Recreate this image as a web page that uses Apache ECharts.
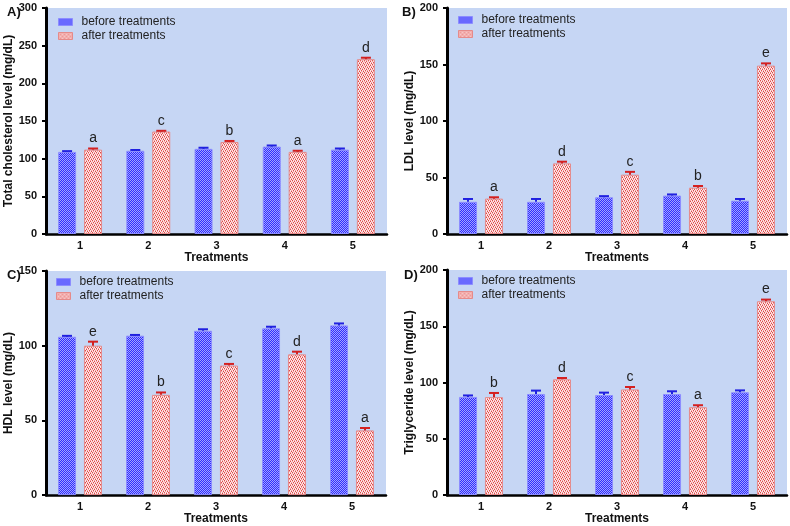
<!DOCTYPE html>
<html><head><meta charset="utf-8">
<script src="https://cdn.jsdelivr.net/npm/echarts@6/dist/echarts.min.js"></script>
<style>html,body{margin:0;padding:0;background:#fff}#c{width:790px;height:526px}</style>
</head><body><div id="c"></div>
<script>
const categories = ['1','2','3','4','5'];
const legendNames = ['before treatments','after treatments'];
// Panel A: Total cholesterol
const tcBefore = [109, 110.5, 113, 116, 112];
const tcBeforeErr = [110, 111.5, 114.5, 117.5, 113.5];
const tcAfter = [112, 136, 122, 109, 232];
const tcAfterErr = [113.5, 137, 123.5, 110.5, 234];
const tcLetters = ['a','c','b','a','d'];
// Panel B: LDL
const ldlBefore = [28.5, 28.5, 32.5, 34, 29.5];
const ldlBeforeErr = [31, 31, 33.5, 35, 31];
const ldlAfter = [31.3, 62.5, 52.5, 41, 149];
const ldlAfterErr = [32.5, 64, 55, 42.5, 151];
const ldlLetters = ['a','d','c','b','e'];
// Panel C: HDL
const hdlBefore = [106, 106.7, 110, 111.6, 113.6];
const hdlBeforeErr = [106.6, 107.2, 111, 112.7, 114.9];
const hdlAfter = [100, 67.1, 86.7, 94.2, 43.3];
const hdlAfterErr = [102.7, 68.7, 87.8, 96, 44.9];
const hdlLetters = ['e','b','c','d','a'];
// Panel D: Triglyceride
const tgBefore = [87.2, 89.8, 88.8, 89.8, 91.3];
const tgBeforeErr = [88.5, 92.8, 91, 92.2, 93];
const tgAfter = [87, 102.8, 93.8, 78, 172.2];
const tgAfterErr = [90.7, 104, 96, 79.8, 173.7];
const tgLetters = ['b','d','c','a','e'];

const panelTitles = ['A)','B)','C)','D)'];
const yNames = ['Total cholesterol level (mg/dL)','LDL level (mg/dL)','HDL level (mg/dL)','Triglyceride level (mg/dL)'];
const yMax = [300, 200, 150, 200];
const xName = 'Treatments';

function makeBluePattern() {
  const c = document.createElement('canvas'); c.width = 2; c.height = 2;
  const g = c.getContext('2d');
  g.fillStyle = '#2e2eff'; g.fillRect(0,0,2,2);
  g.fillStyle = '#a4a4ff';
  g.fillRect(0,0,1,1); g.fillRect(1,1,1,1);
  return c;
}
function makeRedPattern() {
  const c = document.createElement('canvas'); c.width = 4; c.height = 4;
  const g = c.getContext('2d');
  g.fillStyle = '#fde8e8'; g.fillRect(0,0,4,4);
  g.fillStyle = '#e04848';
  g.fillRect(0,0,1,1); g.fillRect(2,1,1,1); g.fillRect(1,2,1,1); g.fillRect(3,3,1,1);
  g.fillStyle = '#f0a0a0';
  g.fillRect(2,0,1,1); g.fillRect(0,1,1,1); g.fillRect(3,2,1,1); g.fillRect(1,3,1,1);
  return c;
}
const bluePat = {image: makeBluePattern(), repeat: 'repeat'};
const redPat = {image: makeRedPattern(), repeat: 'repeat'};
const blueBorder = '#8c8cff', redBorder = '#e58a8a';

const panels = [
  {b: tcBefore, be: tcBeforeErr, a: tcAfter, ae: tcAfterErr, l: tcLetters},
  {b: ldlBefore, be: ldlBeforeErr, a: ldlAfter, ae: ldlAfterErr, l: ldlLetters},
  {b: hdlBefore, be: hdlBeforeErr, a: hdlAfter, ae: hdlAfterErr, l: hdlLetters},
  {b: tgBefore, be: tgBeforeErr, a: tgAfter, ae: tgAfterErr, l: tgLetters}
];
const grids = [
  {left: 46, top: 8, right: 403, bottom: 292},
  {left: 447, top: 8, right: 3, bottom: 292},
  {left: 46, top: 271, right: 404, bottom: 30},
  {left: 447, top: 270, right: 3, bottom: 31}
];
const legendPos = [[58, 16], [458, 14], [56, 276], [458, 275]];
const titlePos = [[2, 1], [397, 1], [2, 264], [399, 264]];
const font = '"Liberation Sans", Arial, sans-serif';

const option = {
  animation: false,
  backgroundColor: '#ffffff',
  title: panelTitles.map((t, i) => ({text: t, left: titlePos[i][0], top: titlePos[i][1],
    textStyle: {fontSize: 13, fontWeight: 'bold', color: '#111', fontFamily: font}})),
  legend: legendPos.map(p => ({
    data: legendNames.map((n, k) => ({name: n, itemStyle: {color: k === 0 ? bluePat : redPat, borderColor: k === 0 ? blueBorder : redBorder, borderWidth: 1}})),
    orient: 'vertical', left: p[0], top: p[1], padding: 0, itemWidth: 14, itemHeight: 7, itemGap: 2,
    icon: 'rect', selectedMode: false,
    textStyle: {fontSize: 12, lineHeight: 12, color: '#222', fontFamily: font, padding: [0,0,0,4]}
  })),
  grid: grids.map(g => Object.assign({show: true, backgroundColor: '#c6d6f4', borderWidth: 0}, g)),
  xAxis: grids.map((g, i) => ({
    type: 'category', gridIndex: i, data: categories,
    name: xName, nameLocation: 'middle', nameGap: 16,
    nameTextStyle: {fontSize: 12, fontWeight: 'bold', color: '#111', fontFamily: font},
    axisLine: {lineStyle: {color: '#000', width: 2.5}},
    axisTick: {alignWithLabel: true, length: 3, lineStyle: {color: '#000', width: 2}},
    axisLabel: {fontSize: 11, fontWeight: 'bold', color: '#111', margin: 6, fontFamily: font}
  })),
  yAxis: grids.map((g, i) => ({
    type: 'value', gridIndex: i, min: 0, max: yMax[i], interval: 50,
    name: yNames[i], nameLocation: 'middle', nameGap: 29,
    nameTextStyle: {fontSize: 12, fontWeight: 'bold', color: '#111', fontFamily: font},
    axisLine: {show: true, lineStyle: {color: '#000', width: 3}},
    axisTick: {show: true, length: 4, lineStyle: {color: '#000', width: 2}},
    axisLabel: {fontSize: 11, fontWeight: 'bold', color: '#111', margin: 9, fontFamily: font},
    splitLine: {show: false}
  })),
  series: []
};

panels.forEach((p, i) => {
  option.series.push({
    name: legendNames[0], type: 'bar', xAxisIndex: i, yAxisIndex: i, data: p.b,
    barWidth: 18, barGap: '44%',
    itemStyle: {color: bluePat, borderColor: blueBorder, borderWidth: 1}
  });
  option.series.push({
    name: legendNames[1], type: 'bar', xAxisIndex: i, yAxisIndex: i, data: p.a,
    barWidth: 18, barGap: '44%',
    itemStyle: {color: redPat, borderColor: redBorder, borderWidth: 1}
  });
  const errData = [];
  p.b.forEach((v, k) => errData.push([k, v, p.be[k], -13, '', '#2020e0']));
  p.a.forEach((v, k) => errData.push([k, v, p.ae[k], 13, p.l[k], '#d42020']));
  option.series.push({
    type: 'custom', xAxisIndex: i, yAxisIndex: i, data: errData, z: 5,
    renderItem: function (params, api) {
      const top = api.coord([api.value(0), api.value(2)]);
      const base = api.coord([api.value(0), api.value(1)]);
      const x = top[0] + api.value(3);
      const col = errData[params.dataIndex][5];
      const letter = errData[params.dataIndex][4];
      const children = [
        {type: 'line', shape: {x1: x, y1: base[1], x2: x, y2: top[1]}, style: {stroke: col, lineWidth: 2}},
        {type: 'line', shape: {x1: x - 5, y1: top[1], x2: x + 5, y2: top[1]}, style: {stroke: col, lineWidth: 2}}
      ];
      if (letter) children.push({type: 'text', x: x, y: top[1] - 3,
        style: {text: letter, textAlign: 'center', textVerticalAlign: 'bottom', fontSize: 14, fill: '#222', fontFamily: font}});
      return {type: 'group', children: children};
    }
  });
});

const chart = echarts.init(document.getElementById('c'), null, {renderer: 'canvas'});
chart.setOption(option);
</script>
</body></html>
